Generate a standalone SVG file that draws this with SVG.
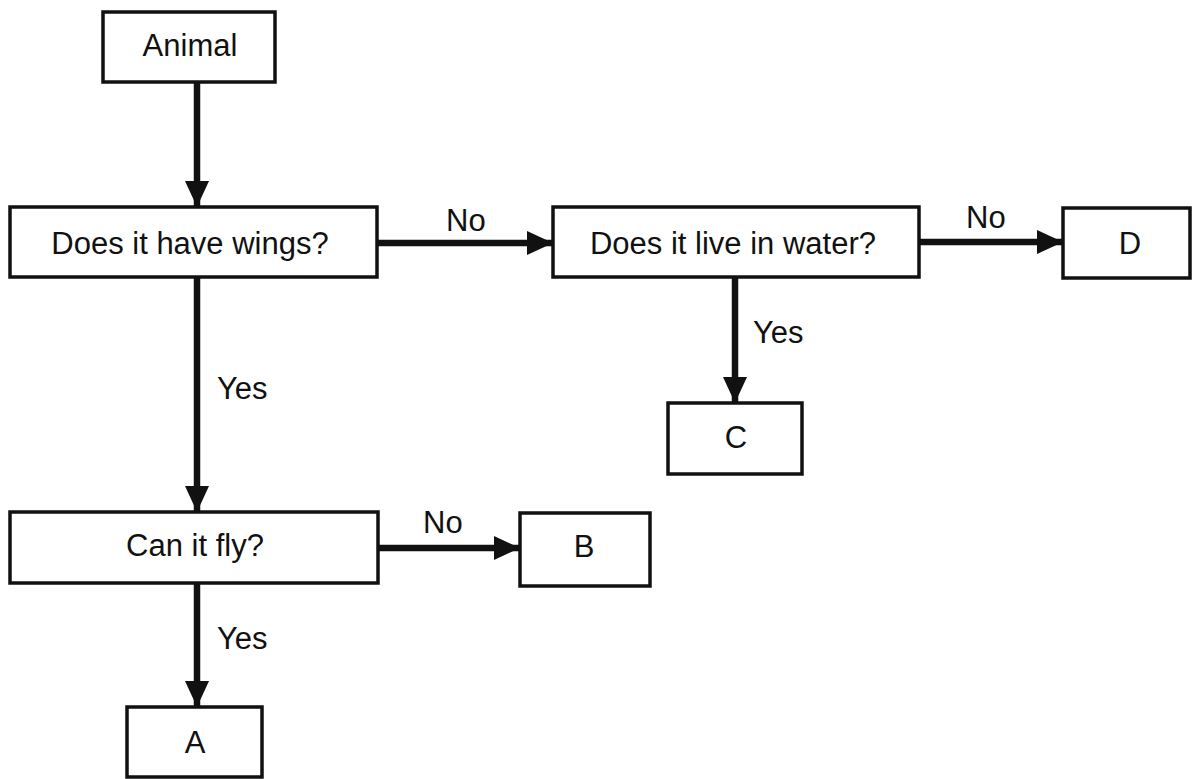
<svg xmlns="http://www.w3.org/2000/svg" width="1194" height="779" viewBox="0 0 1194 779">
  <defs>
    <style>
      .box { fill: #ffffff; stroke: #111111; stroke-width: 3.5; }
      .t { font-family: "Liberation Sans", Arial, sans-serif; font-size: 31px; fill: #111111; text-anchor: middle; dominant-baseline: central; }
      .lbl { font-family: "Liberation Sans", Arial, sans-serif; font-size: 31px; fill: #111111; }
      .conn { stroke: #111111; stroke-width: 6.5; fill: none; marker-end: url(#ah); }
    </style>
    <marker id="ah" markerUnits="userSpaceOnUse" markerWidth="26" markerHeight="24" refX="26" refY="12" orient="auto">
      <path d="M0,0 L26,12 L0,24 Z" fill="#111111"/>
    </marker>
  </defs>
  <rect width="1194" height="779" fill="#ffffff"/>

  <g id="connectors">
    <line class="conn" x1="197" y1="82" x2="197" y2="207"/>
    <line class="conn" x1="377" y1="243" x2="553" y2="243"/>
    <line class="conn" x1="919" y1="242" x2="1063" y2="242"/>
    <line class="conn" x1="735" y1="277" x2="735" y2="403"/>
    <line class="conn" x1="197" y1="277" x2="197" y2="512"/>
    <line class="conn" x1="378" y1="548" x2="520" y2="548"/>
    <line class="conn" x1="197" y1="583" x2="197" y2="707"/>
    <text class="lbl" x="446" y="231">No</text>
    <text class="lbl" x="966" y="228">No</text>
    <text class="lbl" x="753" y="343">Yes</text>
    <text class="lbl" x="217" y="399">Yes</text>
    <text class="lbl" x="423" y="533">No</text>
    <text class="lbl" x="217" y="649">Yes</text>
  </g>

  <g id="animal">
    <rect class="box" x="103" y="12" width="172" height="70"/>
    <text class="t" x="190" y="45">Animal</text>
  </g>
  <g id="wings">
    <rect class="box" x="10" y="207" width="367" height="70"/>
    <text class="t" x="190" y="243">Does it have wings?</text>
  </g>
  <g id="water">
    <rect class="box" x="553" y="207" width="366" height="70"/>
    <text class="t" x="733" y="243">Does it live in water?</text>
  </g>
  <g id="d">
    <rect class="box" x="1063" y="208" width="127" height="70"/>
    <text class="t" x="1130" y="243">D</text>
  </g>
  <g id="c">
    <rect class="box" x="668" y="403" width="134" height="71"/>
    <text class="t" x="736" y="437">C</text>
  </g>
  <g id="fly">
    <rect class="box" x="10" y="512" width="368" height="71"/>
    <text class="t" x="195" y="545">Can it fly?</text>
  </g>
  <g id="b">
    <rect class="box" x="520" y="513" width="130" height="73"/>
    <text class="t" x="584" y="546">B</text>
  </g>
  <g id="a">
    <rect class="box" x="127" y="707" width="135" height="70"/>
    <text class="t" x="195" y="742">A</text>
  </g>
</svg>
